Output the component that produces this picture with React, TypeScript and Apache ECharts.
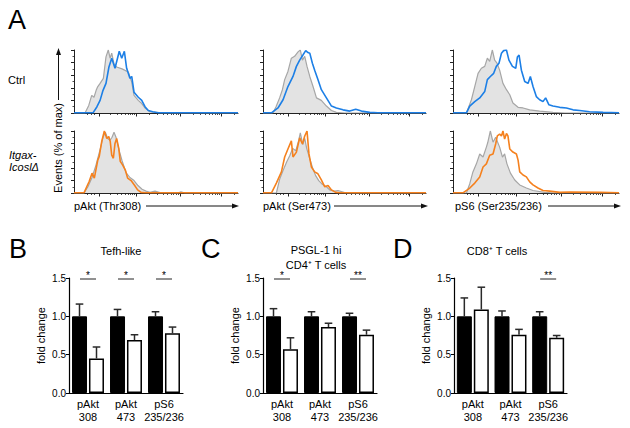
import React, { useEffect, useRef } from 'react';
import * as echarts from 'echarts';

const FONT = '"Liberation Sans", Arial, Helvetica, sans-serif';
const BLUE = '#1c7fe6';
const ORANGE = '#f5811e';

// ---------- Histogram data: [display position (0-100), % of max] ----------
const thr308CtrlIso = [[0,0],[6.7,0],[9,12],[10.8,28],[12.2,25],[13.5,36],[14.3,41],[15.9,47],[17.9,55],[19.5,89],[20.9,100],[22,87],[23,95],[24.4,78],[26,73],[29.3,70],[33.1,65],[35.2,49],[36.6,28],[39.2,20],[41.3,15],[43.3,8],[46.3,2],[52.4,0.5],[60,0],[100,0]];
const thr308Ctrl = [[0,0.3],[11.6,0.3],[14,10],[15.9,20],[17.7,36],[19.5,47],[21.3,73],[23,87],[25,71],[27.6,98],[29.1,87],[30.7,98],[32.1,71],[34.1,55],[35.2,58],[36.6,33],[39.2,25],[41.3,20],[43.3,10],[45.3,4],[48,2],[51.2,0.5],[60,0.3],[100,0.3]];
const thr308KoIso = [[0,0],[6.1,0],[8.5,10],[11,25],[13.4,45],[15.9,70],[17.7,90],[19.1,98],[20.5,88],[22,85],[23.2,90],[24.4,98],[25.6,90],[27.4,70],[29.3,52],[31.7,33],[34.1,25],[36.6,20],[39,12],[41.5,6],[43.9,3],[46.3,1],[49.4,3],[52.4,0.5],[63.4,0],[65.2,2],[67.7,0],[100,0]];
const thr308Ko = [[0,0.3],[6.1,0.3],[9.3,19],[11,32],[12.4,24],[14.5,53],[15.4,59],[16.9,83],[18.5,100],[20,88],[21.2,91],[22.1,83],[23,61],[24,56],[25,80],[26,88],[27.3,72],[28.2,51],[29.7,45],[31.3,37],[32.7,24],[34.8,20],[36.8,13],[38.8,5],[40.9,1],[43.3,0.3],[100,0.3]];

const ser473CtrlIso = [[0,0],[6.1,0],[8,10],[10.2,24],[11.9,37],[13.3,53],[15.3,66],[17.4,87],[19.4,90],[21.5,97],[22.9,100],[24.2,84],[25.6,90],[27,74],[28.7,58],[30.7,42],[32.8,24],[35.8,20],[38.9,11],[42,4],[45,1],[50.1,0],[100,0]];
const ser473Ctrl = [[0,0.3],[5.2,0.3],[9.2,8],[12.3,21],[15.3,42],[18.4,58],[20.5,74],[22.5,84],[24.5,92],[26.2,99],[27.6,96],[28.7,95],[30.3,79],[31.7,68],[33.7,53],[35.8,37],[38.9,24],[42,11],[45,8],[49.1,5],[53.2,3],[56.9,6],[60.4,3],[65.5,1],[70.4,0.3],[100,0.3]];
const ser473KoIso = [[0,0],[8.2,0],[10.2,22],[12.1,35],[14.5,50],[16.4,60],[18.2,72],[20.1,68],[21.9,85],[22.9,97],[24.4,78],[25.6,88],[26.8,72],[28.7,55],[30.5,40],[32.3,28],[34.2,20],[36,15],[38.9,10],[40.9,5],[44,3],[46,4],[50.1,0.5],[55,0],[100,0]];
const ser473Ko = [[0,0.3],[5.2,0.3],[8.2,16],[11.3,34],[13.3,58],[15.3,71],[17.4,84],[18.4,58],[20.5,66],[22.5,89],[24.2,79],[25.6,92],[27,100],[28.2,63],[29.7,42],[31.7,34],[33.7,31],[35.8,21],[37.9,10],[39.9,12],[42,5],[44.6,1],[47.1,0.3],[100,0.3]];

const s6CtrlIso = [[0,0],[8.1,0],[11.1,21],[13.1,42],[15.1,63],[17.1,71],[19.1,74],[20.7,87],[22.1,82],[23.7,100],[25.1,84],[26.5,79],[28.1,68],[30.1,47],[32.2,37],[34.2,29],[36.1,16],[39.2,9],[42.2,8],[46.2,5],[52.2,3],[60.2,1],[67.3,0],[100,0]];
const s6Ctrl = [[0,0.3],[8.1,0.3],[10.1,11],[13.1,18],[16.1,24],[19.1,34],[20.7,53],[22.5,58],[24.5,63],[26.1,74],[27.7,79],[29.2,95],[30.5,99],[32.2,100],[33.7,84],[35.8,74],[37.8,71],[38.8,89],[39.8,92],[41.2,68],[43.2,50],[45.2,47],[46.6,58],[48.2,42],[50.2,26],[52.2,21],[54.2,18],[55.8,24],[57.8,13],[60.2,11],[64.3,9],[68.3,8],[72.3,5],[76.3,4],[82.3,2],[90.4,1],[100,0.5]];
const s6KoIso = [[0,0],[8.1,0],[10.1,15],[12,34],[14.1,47],[16.1,63],[18.1,58],[20.1,74],[20.9,81],[22.5,100],[24.1,82],[25.7,90],[28.1,74],[29.8,58],[31.1,63],[32.5,47],[34.6,32],[37.2,21],[40.2,13],[44.2,8],[48.2,4],[55.2,1],[61.2,0],[100,0]];
const s6Ko = [[0,0.3],[6,0.3],[10.1,8],[13.1,16],[16.1,26],[18.1,42],[20.1,47],[22.1,61],[24.1,63],[25.7,79],[26.7,92],[28.1,95],[29.2,92],[30.1,100],[31.1,87],[32.2,96],[33.1,92],[34.2,71],[36.1,66],[38.2,63],[39.2,53],[40.2,34],[42.2,29],[44.2,26],[46.2,18],[48.2,13],[51.2,8],[54.2,4],[58.3,3],[64.3,1],[70.3,1.5],[88.4,1],[100,0.5]];

const histAxisTitles = ['pAkt (Thr308)', 'pAkt (Ser473)', 'pS6 (Ser235/236)'];
const rowLabels = ['Ctrl', 'Itgax-\nIcoslΔ'];

// ---------- Bar chart data ----------
const barCategories = ['pAkt\n308', 'pAkt\n473', 'pS6\n235/236'];
const tefhCtrl = [1.0, 1.0, 1.0];
const tefhCtrlErr = [0.16, 0.09, 0.06];
const tefhKo = [0.45, 0.69, 0.78];
const tefhKoErr = [0.15, 0.07, 0.08];
const tefhStars = [1, 1, 1];

const psglCtrl = [1.0, 1.0, 1.0];
const psglCtrlErr = [0.10, 0.06, 0.04];
const psglKo = [0.57, 0.86, 0.76];
const psglKoErr = [0.15, 0.05, 0.06];
const psglStars = [1, 0, 2];

const cd8Ctrl = [1.0, 1.0, 1.0];
const cd8CtrlErr = [0.24, 0.07, 0.06];
const cd8Ko = [1.09, 0.76, 0.72];
const cd8KoErr = [0.29, 0.07, 0.03];
const cd8Stars = [0, 0, 2];

const barTitles = ['Tefh-like', 'PSGL-1 hi\nCD4⁺ T cells', 'CD8⁺ T cells'];
const yTicks = [0, 0.5, 1.0, 1.5];

// log-like display ticks for the flow axes
const majorTicks = [15.4, 38, 65, 90];
function minorTicks() {
  const out = [8.3, 10.4, 12.4];
  for (let d = 0; d < majorTicks.length; d++) {
    const a = majorTicks[d];
    const w = d < majorTicks.length - 1 ? majorTicks[d + 1] - a : 25;
    for (let k = 2; k <= 9; k++) {
      const v = a + w * Math.log10(k);
      if (v < 100) out.push(+v.toFixed(2));
    }
  }
  return out;
}

function buildOption() {
  const histCols = [{ left: 74, width: 164 }, { left: 263, width: 163 }, { left: 453, width: 166 }];
  const histRows = [{ top: 50, height: 63 }, { top: 131, height: 62 }];
  const panels = [
    { iso: thr308CtrlIso, s: thr308Ctrl, c: BLUE, col: 0, row: 0 },
    { iso: ser473CtrlIso, s: ser473Ctrl, c: BLUE, col: 1, row: 0 },
    { iso: s6CtrlIso, s: s6Ctrl, c: BLUE, col: 2, row: 0 },
    { iso: thr308KoIso, s: thr308Ko, c: ORANGE, col: 0, row: 1 },
    { iso: ser473KoIso, s: ser473Ko, c: ORANGE, col: 1, row: 1 },
    { iso: s6KoIso, s: s6Ko, c: ORANGE, col: 2, row: 1 },
  ];
  const grid: any[] = [];
  const xAxis: any[] = [];
  const yAxis: any[] = [];
  const series: any[] = [];
  const minors = minorTicks();
  const axisCol = '#222';

  panels.forEach((p, i) => {
    grid.push({ left: histCols[p.col].left, width: histCols[p.col].width, top: histRows[p.row].top, height: histRows[p.row].height });
    xAxis.push({
      gridIndex: i, type: 'value', min: 0, max: 100, position: 'bottom', offset: 0,
      axisLine: { show: true, onZero: false, lineStyle: { color: axisCol, width: 1 } },
      axisTick: { show: true, customValues: majorTicks, length: 3.5, lineStyle: { color: axisCol, width: 1 } },
      axisLabel: { show: false }, splitLine: { show: false },
    });
    xAxis.push({
      gridIndex: i, type: 'value', min: 0, max: 100, position: 'bottom', offset: 0,
      axisLine: { show: false, onZero: false },
      axisTick: { show: true, customValues: minors, length: 2, lineStyle: { color: axisCol, width: 0.8 } },
      axisLabel: { show: false }, splitLine: { show: false },
    });
    yAxis.push({
      gridIndex: i, type: 'value', min: 0, max: 100, interval: 20,
      axisLine: { show: true, lineStyle: { color: axisCol, width: 1 } },
      axisTick: { show: true, length: 3, lineStyle: { color: axisCol, width: 1 } },
      minorTick: { show: true, splitNumber: 2, length: 1.5, lineStyle: { color: axisCol, width: 0.8 } },
      axisLabel: { show: false }, splitLine: { show: false },
    });
    series.push({
      type: 'line', xAxisIndex: 2 * i, yAxisIndex: i, data: p.iso, symbol: 'none', smooth: false,
      lineStyle: { color: '#a6a6a6', width: 1.2 }, areaStyle: { color: '#e3e3e3', opacity: 1 }, z: 2,
    });
    series.push({
      type: 'line', xAxisIndex: 2 * i, yAxisIndex: i, data: p.s, symbol: 'none', smooth: false,
      lineStyle: { color: p.c, width: 1.6 }, z: 3,
    });
  });

  const bars = [
    { left: 69, width: 114, ctrl: tefhCtrl, ce: tefhCtrlErr, ko: tefhKo, ke: tefhKoErr, stars: tefhStars },
    { left: 263, width: 114, ctrl: psglCtrl, ce: psglCtrlErr, ko: psglKo, ke: psglKoErr, stars: psglStars },
    { left: 454, width: 113, ctrl: cd8Ctrl, ce: cd8CtrlErr, ko: cd8Ko, ke: cd8KoErr, stars: cd8Stars },
  ];
  const errRender = (params: any, api: any) => {
    const c = api.value(0), m = api.value(1), e = api.value(2), side = api.value(3);
    const p0 = api.coord([c, m]);
    const p1 = api.coord([c, m + e]);
    const x = p0[0] + side * 8.5;
    const st = { stroke: '#2a2a2a', lineWidth: 1.5, fill: null };
    return {
      type: 'group', children: [
        { type: 'line', shape: { x1: x, y1: p0[1], x2: x, y2: p1[1] }, style: st },
        { type: 'line', shape: { x1: x - 3.8, y1: p1[1], x2: x + 3.8, y2: p1[1] }, style: st },
      ],
    };
  };
  const sigRender = (params: any, api: any) => {
    const c = api.value(0), y = api.value(1), n = api.value(2);
    const p = api.coord([c, y]);
    return {
      type: 'group', children: [
        { type: 'line', shape: { x1: p[0] - 8, y1: p[1] + 1, x2: p[0] + 8, y2: p[1] + 1 }, style: { stroke: '#222', lineWidth: 1, fill: null } },
        { type: 'text', x: p[0], y: p[1] - 3, style: { text: '*'.repeat(n), fontSize: 10, fontFamily: FONT, fill: '#000', align: 'center', verticalAlign: 'middle', textAlign: 'center', textVerticalAlign: 'middle' } },
      ],
    };
  };

  bars.forEach((b, j) => {
    const gi = 6 + j;
    const xi = 12 + j;
    grid.push({ left: b.left, width: b.width, top: 278, height: 115 });
    xAxis.push({
      gridIndex: gi, type: 'category', data: barCategories, position: 'bottom',
      axisLine: { show: true, lineStyle: { color: '#000', width: 1.2 } },
      axisTick: { show: false },
      axisLabel: { interval: 0, fontSize: 11, lineHeight: 13.5, color: '#000', fontFamily: FONT, margin: 4 },
      splitLine: { show: false },
    });
    yAxis.push({
      gridIndex: gi, type: 'value', min: yTicks[0], max: yTicks[yTicks.length - 1], interval: 0.5,
      name: 'fold change', nameLocation: 'middle', nameRotate: 90, nameGap: 23,
      nameTextStyle: { fontSize: 11, color: '#000', fontFamily: FONT },
      axisLine: { show: true, lineStyle: { color: '#000', width: 1.2 } },
      axisTick: { show: true, length: 3, lineStyle: { color: '#000', width: 1 } },
      axisLabel: { formatter: (v: number) => v.toFixed(1), fontSize: 10, color: '#000', fontFamily: FONT, margin: 3 },
      splitLine: { show: false },
    });
    series.push({
      type: 'bar', xAxisIndex: xi, yAxisIndex: gi, data: b.ctrl, barWidth: 15, barGap: '13%',
      itemStyle: { color: '#000', borderColor: '#000', borderWidth: 1 },
    });
    series.push({
      type: 'bar', xAxisIndex: xi, yAxisIndex: gi, data: b.ko, barWidth: 15, barGap: '13%',
      itemStyle: { color: '#fff', borderColor: '#000', borderWidth: 1.5 },
    });
    series.push({
      type: 'custom', xAxisIndex: xi, yAxisIndex: gi, renderItem: errRender, clip: false, z: 5,
      itemStyle: { color: '#000' },
      encode: { x: 0, y: 1 },
      data: [
        ...b.ctrl.map((v, k) => [k, v, b.ce[k], -1]),
        ...b.ko.map((v, k) => [k, v, b.ke[k], 1]),
      ],
    });
    series.push({
      type: 'custom', xAxisIndex: xi, yAxisIndex: gi, renderItem: sigRender, clip: false, z: 5,
      itemStyle: { color: '#000' },
      encode: { x: 0, y: 1 },
      data: b.stars.map((n, k) => [k, yTicks[yTicks.length - 1], n]).filter((d) => d[2] > 0),
    });
  });

  const txt = (text: string, x: number, y: number, size: number, extra: any = {}, rotation = 0) => ({
    type: 'text', x, y, rotation, silent: true,
    style: {
      text, fontSize: size, fontFamily: FONT, fill: '#000',
      align: extra.align || 'left', textAlign: extra.align || 'left',
      verticalAlign: 'middle', textVerticalAlign: 'middle',
      fontStyle: extra.fontStyle || 'normal', lineHeight: extra.lineHeight || size + 3,
    },
  });
  const graphic: any[] = [];
  graphic.push(txt('A', 8, 20, 27));
  graphic.push(txt('B', 9, 249, 27));
  graphic.push(txt('C', 201, 249, 27));
  graphic.push(txt('D', 393, 249, 27));
  graphic.push(txt(rowLabels[0], 8, 80, 11));
  graphic.push(txt(rowLabels[1], 9, 161, 11, { fontStyle: 'italic', lineHeight: 12 }));
  // y axis label with arrow
  graphic.push(txt('Events (% of max)', 58, 148, 11, { align: 'center' }, Math.PI / 2));
  graphic.push({ type: 'line', silent: true, shape: { x1: 58.5, y1: 100, x2: 58.5, y2: 53 }, style: { stroke: '#111', lineWidth: 1 } });
  graphic.push({ type: 'polygon', silent: true, shape: { points: [[58.5, 48], [56, 55], [61, 55]] }, style: { fill: '#111' } });
  // x axis labels with arrows
  const xl = [
    { x: 74, lineStart: 146, lineEnd: 239 },
    { x: 263, lineStart: 334, lineEnd: 428 },
    { x: 455, lineStart: 548, lineEnd: 621 },
  ];
  xl.forEach((a, i) => {
    graphic.push(txt(histAxisTitles[i], a.x, 206, 11));
    graphic.push({ type: 'line', silent: true, shape: { x1: a.lineStart, y1: 206, x2: a.lineEnd - 4, y2: 206 }, style: { stroke: '#111', lineWidth: 1 } });
    graphic.push({ type: 'polygon', silent: true, shape: { points: [[a.lineEnd, 206], [a.lineEnd - 7, 203.5], [a.lineEnd - 7, 208.5]] }, style: { fill: '#111' } });
  });
  // bar chart titles
  graphic.push(txt(barTitles[0], 121, 251, 11, { align: 'center' }));
  graphic.push(txt(barTitles[1], 316, 257.5, 11, { align: 'center', lineHeight: 15 }));
  graphic.push(txt(barTitles[2], 497, 251, 11, { align: 'center' }));

  return {
    animation: false,
    backgroundColor: '#fff',
    textStyle: { fontFamily: FONT },
    grid, xAxis, yAxis, series, graphic,
  };
}

export default function App() {
  const ref = useRef<HTMLDivElement>(null);
  useEffect(() => {
    const chart = echarts.init(ref.current!, null, { renderer: 'svg' });
    chart.setOption(buildOption() as any);
    return () => chart.dispose();
  }, []);
  return (
    <div
      ref={ref}
      style={{ position: 'fixed', left: 0, top: 0, width: 630, height: 428, background: '#fff' }}
    />
  );
}
